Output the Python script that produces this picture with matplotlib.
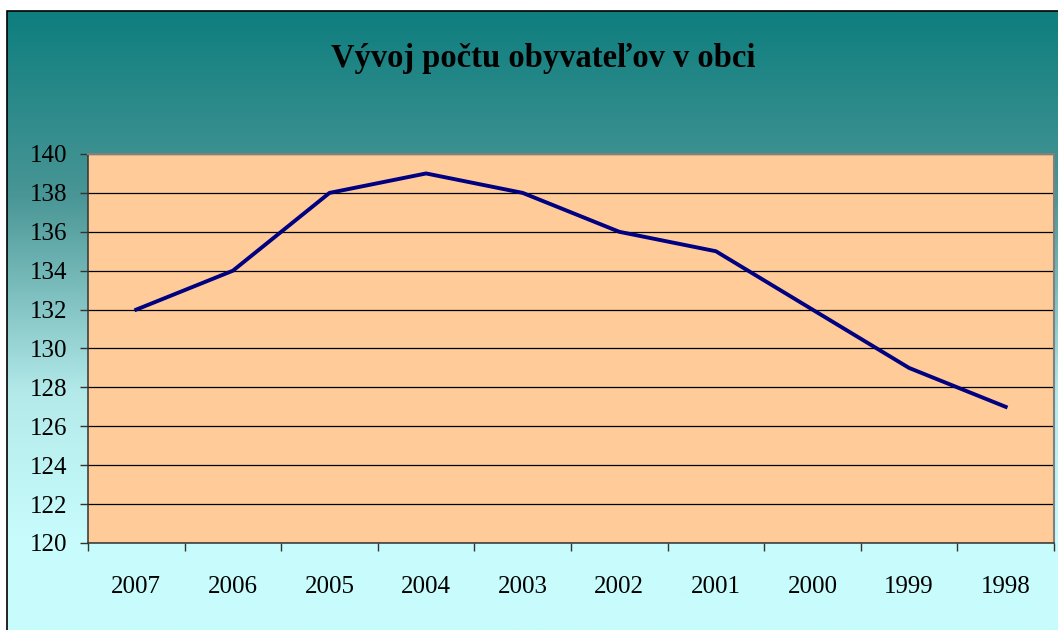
# -*- coding: utf-8 -*-
import numpy as np
import matplotlib
matplotlib.use('Agg')
import matplotlib.pyplot as plt
from matplotlib.colors import LinearSegmentedColormap
from matplotlib.patches import Rectangle

# údaje z grafu
roky = ['2007', '2006', '2005', '2004', '2003', '2002', '2001', '2000', '1999', '1998']
obyvatelia = [132, 134, 138, 139, 138, 136, 135, 132, 129, 127]
y_ticks = [120, 122, 124, 126, 128, 130, 132, 134, 136, 138, 140]

W, H = 1058, 630
plt.rcParams['font.family'] = ['Liberation Serif', 'DejaVu Serif']

fig = plt.figure(figsize=(W / 100, H / 100), dpi=100)
fig.patch.set_facecolor('white')

# pozadie s prechodom farieb
bg = fig.add_axes([7 / W, 0, 1 - 7 / W, 1 - 11 / H])
grad_cmap = LinearSegmentedColormap.from_list(
    'bg', [(0.0, '#0e7e7e'), (0.3, '#4a9696'), (0.62, '#b4eaea'), (0.85, '#c8fcfc'), (1.0, '#c8fcfc')])
grad = np.linspace(0, 1, 256).reshape(-1, 1)
bg.imshow(grad, aspect='auto', cmap=grad_cmap, extent=[0, 1, 0, 1], origin='upper')
bg.set_xlim(0, 1)
bg.set_ylim(0, 1)
bg.axis('off')
fig.patches.append(Rectangle((7 / W, -0.1), 1.2, 1.1 - 11 / H,
                             transform=fig.transFigure, fill=False,
                             edgecolor='black', linewidth=1.2, zorder=5))

ax = fig.add_axes([88 / W, 1 - 543 / H, (1054 - 88) / W, (543 - 154) / H])
ax.set_facecolor('#ffcc99')

x = np.arange(len(roky))
ax.plot(x, obyvatelia, color='#000080', linewidth=2.8, solid_joinstyle='round', zorder=3)

ax.set_xlim(-0.5, len(roky) - 0.5)
ax.set_ylim(120, 140)
ax.set_yticks(y_ticks)
ax.yaxis.grid(True, color='black', linewidth=0.9)
ax.set_axisbelow(True)

ax.set_xticks(np.arange(-0.5, len(roky), 1.0))
ax.set_xticklabels([])
ax.set_xticks(x, minor=True)
ax.set_xticklabels(roky, minor=True)
ax.tick_params(axis='x', which='major', direction='out', length=6, width=1, color='#333333')
ax.tick_params(axis='x', which='minor', length=0, pad=24, labelsize=18)
ax.tick_params(axis='y', direction='out', length=6, width=1, color='#333333', pad=9, labelsize=18)

for s in ['left', 'bottom']:
    ax.spines[s].set_color('#333333')
    ax.spines[s].set_linewidth(1.1)
for s in ['top', 'right']:
    ax.spines[s].set_color('#808080')
    ax.spines[s].set_linewidth(1.5)

fig.text(0.5 + 14 / W, 1 - 58 / H, 'Vývoj počtu obyvateľov v obci', ha='center', va='center',
         fontsize=23.5, fontweight='bold')

fig.savefig('out.png', dpi=100)
